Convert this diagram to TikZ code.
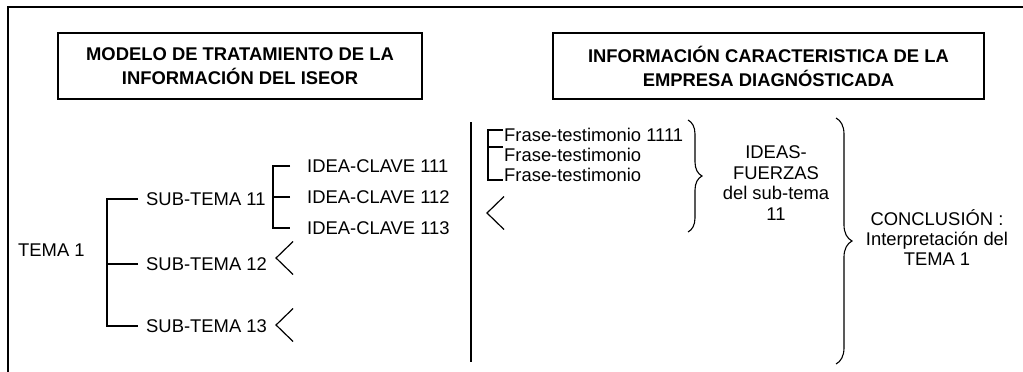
\documentclass[tikz,border=0pt]{standalone}
\usepackage{fontspec}
\setmainfont{Liberation Sans}
\usetikzlibrary{decorations.pathreplacing}

\tikzset{
    texto/.style={inner sep=0pt, anchor=west, text height=13.2pt, text depth=0pt},
    titulo/.style={draw, line width=1.3pt, align=center, minimum height=66pt,
        font=\fontsize{18.4}{24}\selectfont\bfseries},
    bloque/.style={inner sep=0pt, align=center},
    llave/.style={decorate, decoration={brace, amplitude=#1}, line width=1.1pt},
    rama/.style={line width=1.2pt}
}

\newcommand{\angulo}[1]{\draw[rama] (#1) ++(17,-16.5) -- (#1) -- ++(17,16.5);}

\begin{document}
\begin{tikzpicture}[x=1pt, y=-1pt, font=\fontsize{18.4}{20}\selectfont]
    \useasboundingbox (0,0) rectangle (1023,372);
    \draw[line width=1.5pt] (8,372) -- (8,7) -- (1023,7);

    \node[titulo, minimum width=364pt] (modelo) at (240,66) {MODELO DE TRATAMIENTO DE LA\\INFORMACIÓN DEL ISEOR};
    \node[titulo, minimum width=431pt] (empresa) at (768.5,66) {INFORMACIÓN CARACTERISTICA DE LA\\EMPRESA DIAGNÓSTICADA};

    \node[texto] (tema) at (18,250) {TEMA 1};
    \foreach \n/\y in {1/199,2/264,3/326}
        \node[texto] (sub1\n) at (146,\y) {SUB-TEMA 1\n};
    \draw[rama] ([xshift=-8]sub11.west) -- ++(-31,0) |- ([xshift=-8]sub13.west);
    \draw[rama] ([xshift=-8]sub12.west) -- ++(-31,0);

    \foreach \n/\y in {1/166,2/197,3/228}
        \node[texto] (idea11\n) at (307,\y) {IDEA-CLAVE 11\n};
    \draw[rama] ([xshift=-17]idea111.west) -- ++(-17,0) |- ([xshift=-17]idea113.west);
    \draw[rama] ([xshift=-17]idea112.west) -- ++(-17,0);

    \coordinate (ang12) at ([shift={(9,-6)}]sub12.east);
    \coordinate (ang13) at ([shift={(9,-1)}]sub13.east);
    \angulo{ang12}
    \angulo{ang13}

    \coordinate (div1) at (471,122);
    \coordinate (div2) at (471,362);
    \draw[rama] (div1) -- (div2);

    \foreach \n/\y/\t in {1/135/{Frase-testimonio 1111},2/155/Frase-testimonio,3/175/Frase-testimonio}
        \node[texto] (frase\n) at (504,\y) {\t};
    \draw[rama] ([xshift=-1,yshift=5]frase1.west) -- ++(-15,0) |- ([xshift=-1,yshift=-5]frase3.west);
    \draw[rama] ([xshift=-1,yshift=8]frase2.west) -- ++(-15,0);
    \coordinate (ang111) at ([shift={(-17,38)}]frase3.west);
    \angulo{ang111}

    \coordinate (llave1a) at (688,120);
    \coordinate (llave1b) at (688,232);
    \draw[llave=14pt] (llave1a) -- (llave1b);
    \node[bloque, font=\fontsize{18.4}{20.5}\selectfont] (ideas) at (776,183) {IDEAS-\\FUERZAS\\del sub-tema\\11};

    \coordinate (llave2a) at (836,118);
    \coordinate (llave2b) at (836,364);
    \draw[llave=16pt] (llave2a) -- (llave2b);
    \node[bloque] (conclusion) at (937,238) {CONCLUSIÓN :\\Interpretación del\\TEMA 1};
\end{tikzpicture}
\end{document}
